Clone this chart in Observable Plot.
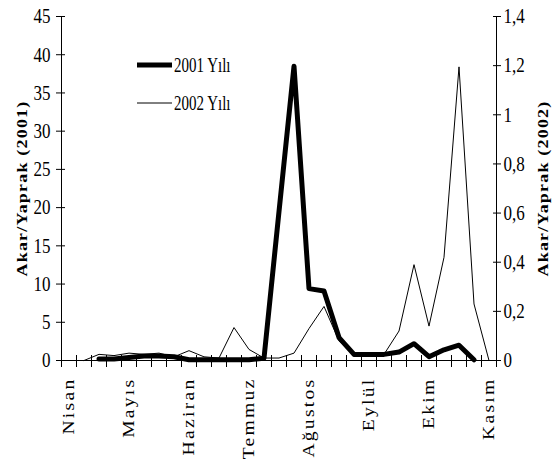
<!DOCTYPE html>
<html><head><meta charset="utf-8">
<script src="https://cdn.jsdelivr.net/npm/d3@7"></script>
<script src="https://cdn.jsdelivr.net/npm/@observablehq/plot@0.6"></script>
<style>
body{margin:0;background:#fff;}
#chart{position:relative;width:553px;height:466px;}
</style></head><body><div id="chart"></div>
<script>
const weeks = [0,1,2,3,4,5,6,7,8,9,10,11,12,13,14,15,16,17,18,19,20,21,22,23,24,25,26,27,28];
const months = ["Nisan","Mayıs","Haziran","Temmuz","Ağustos","Eylül","Ekim","Kasım"];
const monthWeeks = [0,4,8,12,16,20,24,28];
const y2001 = [null,null,0.2,0.2,0.4,0.6,0.6,0.5,0.1,0.1,0.1,0.1,0.1,0.3,19.5,38.5,9.4,9.1,3.0,0.8,0.8,0.8,1.1,2.2,0.5,1.4,2.0,0.1,null];
const y2002 = [null,0,0.025,0.02,0.03,0.025,0.03,0.015,0.04,0.015,0.01,0.134,0.045,0.01,0.01,0.03,0.13,0.22,0.08,0.025,0.025,0.025,0.12,0.39,0.14,0.42,1.195,0.23,0];
const leftTicks = [0,5,10,15,20,25,30,35,40,45];
const rightTicks = [0,0.2,0.4,0.6,0.8,1,1.2,1.4];
const seriesNames = ["2001 Yılı","2002 Yılı"];
const leftTitle = "Akar/Yaprak (2001)";
const rightTitle = "Akar/Yaprak (2002)";

const leftMax = leftTicks[leftTicks.length-1];
const rightMax = rightTicks[rightTicks.length-1];
const k = leftMax / rightMax;
const rows = weeks.map((w,i)=>({w, a: y2001[i], b: y2002[i] == null ? null : y2002[i]*k}));
const edges = weeks.map(w=>w-0.5).concat([weeks[weeks.length-1]+0.5]);
const xDom = [edges[0], edges[edges.length-1]];

const font = "'Liberation Serif','Times New Roman',serif";
const plot = Plot.plot({
  width:553, height:466,
  marginLeft:61, marginRight:57, marginTop:16, marginBottom:106,
  style:{fontFamily:font, fontSize:"17px", color:"#000", background:"#fff", overflow:"visible"},
  x:{domain:xDom},
  y:{domain:[0,leftMax]},
  marks:[
    Plot.axisX({ticks: edges, tickSize:12, dy:-5, tickFormat: ()=>"", label:null}),
    Plot.axisX({ticks: monthWeeks, tickFormat: w=>months[monthWeeks.indexOf(w)], tickSize:0, tickPadding:17, tickRotate:-90, label:null}),
    Plot.axisY({ticks:leftTicks, tickSize:9, dx:4, tickPadding:6, label:leftTitle, labelAnchor:"center", labelOffset:45}),
    Plot.axisY({anchor:"right", ticks: rightTicks.map(v=>v*k), tickFormat: v=>String(+(v/k).toFixed(1)).replace(".",","), tickSize:8, dx:-4, tickPadding:3, label:rightTitle, labelAnchor:"center", labelOffset:51}),
    Plot.ruleX(xDom, {stroke:"#000"}),
    Plot.ruleY([0], {stroke:"#000"}),
    Plot.line(rows, {x:"w", y:"b", stroke:"#000", strokeWidth:1}),
    Plot.line(rows, {x:"w", y:"a", stroke:"#000", strokeWidth:5, strokeLinejoin:"round"})
  ]
});
document.getElementById("chart").appendChild(plot);
const svg = d3.select(plot);
svg.selectAll('g[aria-label="y-axis tick label"] text').each(function(){
  const t = this.getAttribute("transform") || "";
  this.setAttribute("transform", t + " scale(1,1.25)");
});
svg.selectAll('g[aria-label="x-axis tick label"] text').each(function(){
  const t = this.getAttribute("transform") || "";
  this.setAttribute("transform", t + " scale(1.15,1)");
  this.style.letterSpacing = "2px";
});
svg.selectAll('g[aria-label="y-axis label"] text').each(function(){
  const t = this.getAttribute("transform") || "";
  this.setAttribute("transform", t + " scale(1.2,1)");
  this.style.letterSpacing = "1px";
  this.style.fontWeight = "bold";
  this.style.fontSize = "15px";
  d3.select(this).selectAll("tspan").each(function(){ this.textContent = this.textContent.replace(/[↑↓→←]/g,"").trim(); });
  if (!this.querySelector("tspan")) this.textContent = this.textContent.replace(/[↑↓→←]/g,"").trim();
});
// legend
const lg = svg.append("g").attr("font-family", font).attr("font-size", 15).attr("text-anchor","start");
[[5,65],[1,103]].forEach(([sw,y],i)=>{
  lg.append("line").attr("x1",137).attr("x2",172).attr("y1",y).attr("y2",y).attr("stroke","#000").attr("stroke-width",sw);
  lg.append("text").attr("text-anchor","start").attr("transform",`translate(174,${y}) scale(1,1.35)`).attr("dy","0.35em").text(seriesNames[i]);
});
</script></body></html>
